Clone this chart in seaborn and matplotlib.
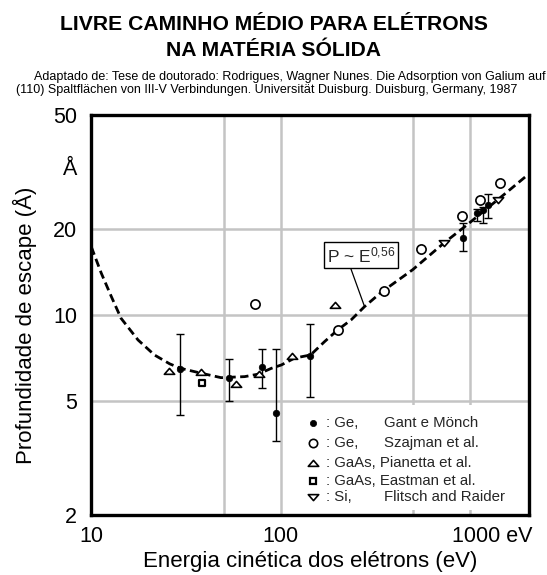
import numpy as np
import pandas as pd
import seaborn as sns
import matplotlib
matplotlib.use("Agg")
import matplotlib.pyplot as plt
from matplotlib.path import Path
from matplotlib.patches import Rectangle
import matplotlib.transforms as mtransforms

# ---------------- data ----------------
ge_gant_E = [29.4, 53.5, 79.4, 94.2, 142, 911, 1084, 1161, 1247]
ge_gant_P = [6.48, 6.01, 6.58, 4.54, 7.21, 18.6, 22.7, 23.2, 24.2]
ge_gant_lo = [4.48, 5.02, 5.55, 3.63, 5.18, 16.7, 21.3, 20.9, 21.8]
ge_gant_hi = [8.6, 7.02, 7.59, 7.59, 9.29, 21.0, 23.4, 23.9, 26.4]

ge_szaj_E = [73.3, 200, 351, 547, 908, 1129, 1439]
ge_szaj_P = [10.9, 8.87, 12.1, 17.0, 22.2, 25.3, 29.0]

gaas_pian_E = [25.7, 37.8, 58, 76.6, 115, 194]
gaas_pian_P = [6.37, 6.31, 5.73, 6.2, 7.2, 10.8]

gaas_east_E = [38.7]
gaas_east_P = [5.8]

si_flit_E = [730, 1392]
si_flit_P = [17.9, 25.3]

curve_E = [10.04, 11.33, 12.8, 14.4, 17.7, 21.6, 26.0, 29.7, 38.1, 48.5, 64.6,
           75.9, 89.3, 100.9, 118.5, 143.9, 170.4, 200, 235.5, 277, 339, 497,
           730, 948, 1542, 1963]
curve_P = [17.3, 14.0, 11.6, 9.74, 8.18, 7.25, 6.75, 6.51, 6.26, 6.04, 6.09,
           6.21, 6.51, 6.69, 7.07, 7.25, 8.07, 8.87, 9.62, 10.7, 12.0, 14.4,
           17.9, 20.5, 26.7, 30.5]

x_ticks = [10, 100, 1000]
x_tick_labels = ["10", "100", "1000 eV"]
y_ticks = [2, 5, 10, 20, 33, 50]
y_tick_labels = ["2", "5", "10", "20", "Å", "50"]
x_grid = [50, 100, 500, 1000]
y_grid = [5, 10, 20]

legend_rows = [
    ("Ge,", "Gant e Mönch"),
    ("Ge,", "Szajman et al."),
    ("GaAs, Pianetta et al.", None),
    ("GaAs, Eastman et al.", None),
    ("Si,", "Flitsch and Raider"),
]

title1 = "LIVRE CAMINHO MÉDIO PARA ELÉTRONS"
title2 = "NA MATÉRIA SÓLIDA"
sub1 = "Adaptado de: Tese de doutorado: Rodrigues, Wagner Nunes. Die Adsorption von Galium auf"
sub2 = "(110) Spaltflächen von III-V Verbindungen. Universität Duisburg. Duisburg, Germany, 1987"

# ---------------- style ----------------
sns.set_theme(style="white")
plt.rcParams["font.family"] = ["Liberation Sans", "DejaVu Sans"]
plt.rcParams["mathtext.fontset"] = "custom"
plt.rcParams["mathtext.rm"] = "Liberation Sans"
plt.rcParams["mathtext.it"] = "Liberation Sans"

W, H = 547, 575
fig = plt.figure(figsize=(W / 100, H / 100), dpi=100)
fig.patch.set_facecolor("white")
ax = fig.add_axes([91 / W, 1 - 515 / H, 438 / W, 400 / H])
ax.set_xscale("log")
ax.set_yscale("log")
ax.set_xlim(10, 2040)
ax.set_ylim(2, 50)

for g in x_grid:
    ax.axvline(g, color="#c4c4c4", lw=1.8, zorder=0.5)
for g in y_grid:
    ax.axhline(g, color="#c4c4c4", lw=1.8, zorder=0.5)

# legend background (covers grid)
ax.add_patch(Rectangle((0.477, 0.012), 0.52, 0.262, transform=ax.transAxes,
                       facecolor="white", edgecolor="none", zorder=1))

# curve
sns.lineplot(x=curve_E, y=curve_P, ax=ax, color="black", lw=2,
             linestyle=(0, (3, 1.6)), sort=False, zorder=2)

# error bars
E = np.array(ge_gant_E); P = np.array(ge_gant_P)
yerr = [P - np.array(ge_gant_lo), np.array(ge_gant_hi) - P]
ax.errorbar(E, P, yerr=yerr, fmt="none", ecolor="black", elinewidth=1.0,
            capsize=2.6, capthick=1.0, zorder=3)

tri_up = Path([(-1, -0.55), (1, -0.55), (0, 0.6), (-1, -0.55)],
              [Path.MOVETO, Path.LINETO, Path.LINETO, Path.CLOSEPOLY])
tri_dn = Path([(-1, 0.55), (1, 0.55), (0, -0.6), (-1, 0.55)],
              [Path.MOVETO, Path.LINETO, Path.LINETO, Path.CLOSEPOLY])

sns.scatterplot(x=ge_gant_E, y=ge_gant_P, ax=ax, marker="o", s=22,
                color="black", edgecolor="black", linewidth=0.5, zorder=4)
sns.scatterplot(x=ge_szaj_E, y=ge_szaj_P, ax=ax, marker="o", s=44,
                facecolor="white", edgecolor="black", linewidth=1.2, zorder=4)
sns.scatterplot(x=gaas_pian_E, y=gaas_pian_P, ax=ax, marker=tri_up, s=55,
                facecolor="white", edgecolor="black", linewidth=1.2, zorder=4)
sns.scatterplot(x=gaas_east_E, y=gaas_east_P, ax=ax, marker="s", s=22,
                facecolor="white", edgecolor="black", linewidth=1.6, zorder=4)
sns.scatterplot(x=si_flit_E, y=si_flit_P, ax=ax, marker=tri_dn, s=55,
                facecolor="white", edgecolor="black", linewidth=1.2, zorder=4)

# annotation P ~ E^0,56
ax.annotate("P ~ E$^{0{,}56}$", xy=(277, 10.7), xycoords="data",
            xytext=((327 - 91) / 438, (515 - 262) / 400), textcoords="axes fraction",
            fontsize=12.5, ha="left", va="baseline",
            bbox=dict(boxstyle="square,pad=0.18", fc="white", ec="black", lw=1.0),
            arrowprops=dict(arrowstyle="-", color="black", lw=0.9,
                            shrinkA=0, shrinkB=0, relpos=(0.33, 0.0)),
            zorder=5)

# manual legend
row_y = [0.231, 0.181, 0.131, 0.085, 0.044]
leg_styles = [
    dict(marker="o", ms=4.5, mfc="black", mec="black", mew=0.5),
    dict(marker="o", ms=6.0, mfc="white", mec="black", mew=1.2),
    dict(marker=tri_up, ms=7.5, mfc="white", mec="black", mew=1.2),
    dict(marker="s", ms=4.5, mfc="white", mec="black", mew=1.6),
    dict(marker=tri_dn, ms=7.5, mfc="white", mec="black", mew=1.2),
]
for (mat, src), yy, st in zip(legend_rows, row_y, leg_styles):
    ax.plot([0.507], [yy], transform=ax.transAxes, ls="none", zorder=6, **st)
    ax.text(0.537, yy, ": " + mat, transform=ax.transAxes, fontsize=10.8,
            va="center", ha="left", zorder=6)
    if src:
        ax.text(0.669, yy, src, transform=ax.transAxes, fontsize=10.8,
                va="center", ha="left", zorder=6)

# ticks
ax.set_xticks(x_ticks)
ax.set_xticklabels(x_tick_labels)
ax.xaxis.set_minor_locator(matplotlib.ticker.NullLocator())
ax.set_yticks(y_ticks)
ax.set_yticklabels(y_tick_labels)
ax.yaxis.set_minor_locator(matplotlib.ticker.NullLocator())
ax.tick_params(axis="both", length=0, labelsize=15.5, colors="black")
ax.tick_params(axis="x", pad=8)
ax.tick_params(axis="y", pad=10)
lab = ax.get_xticklabels()[2]
lab.set_ha("left")
lab.set_transform(lab.get_transform() +
                  mtransforms.ScaledTranslation(-18 / 100, 0, fig.dpi_scale_trans))

for sp in ax.spines.values():
    sp.set_color("black")
    sp.set_linewidth(2.4)
    sp.set_visible(True)

ax.set_xlabel("Energia cinética dos elétrons (eV)", fontsize=16, color="black")
ax.xaxis.set_label_coords(0.5, -(561 - 515) / 400)
ax.xaxis.label.set_va("center")
ax.set_ylabel("Profundidade de escape (Å)", fontsize=16, color="black")
ax.yaxis.set_label_coords(-(91 - 25) / 438, 0.475)
ax.yaxis.label.set_va("center")

fig.text(0.5, 1 - 24 / H, title1, ha="center", va="center", fontsize=15.2,
         fontweight="bold", color="black")
fig.text(0.5, 1 - 51 / H, title2, ha="center", va="center", fontsize=15.2,
         fontweight="bold", color="black")
fig.text(545 / W, 1 - 77 / H, sub1, ha="right", va="center", fontsize=9.0, color="black")
fig.text(16 / W, 1 - 90 / H, sub2, ha="left", va="center", fontsize=9.0, color="black")

fig.savefig("out.png", dpi=100, facecolor="white")
